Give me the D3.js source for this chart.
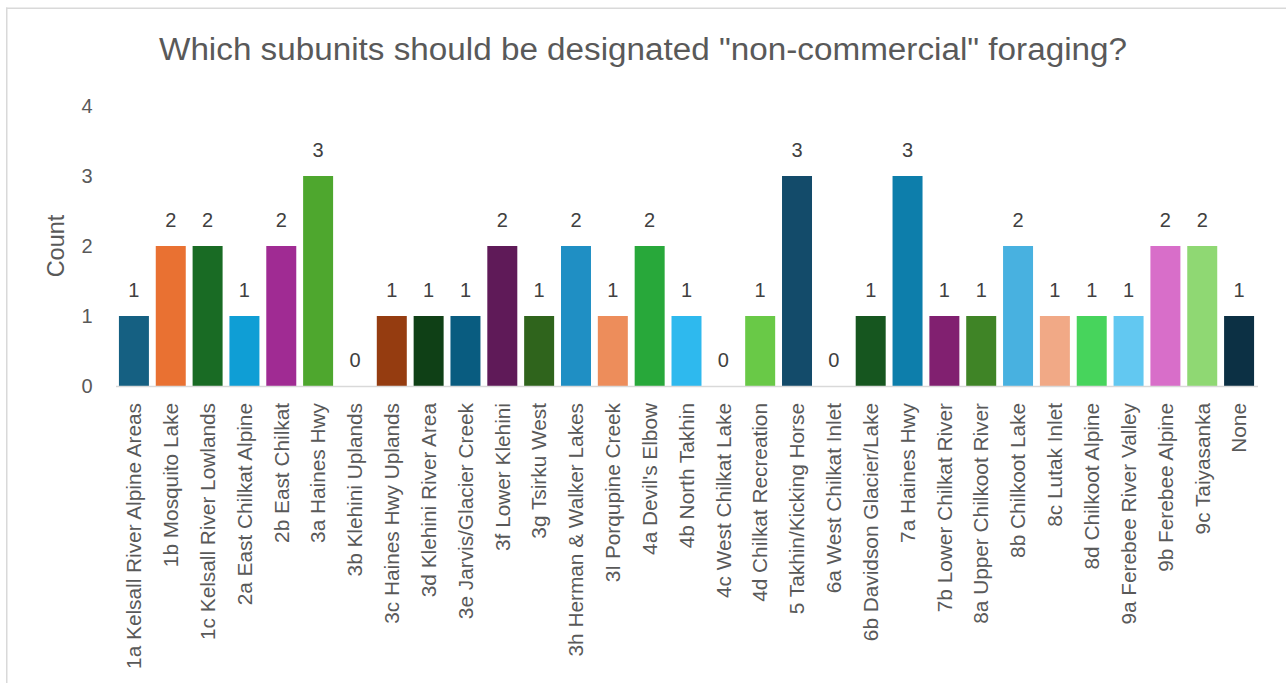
<!DOCTYPE html>
<html>
<head>
<meta charset="utf-8">
<script src="https://cdn.jsdelivr.net/npm/d3@7"></script>
<style>
  html, body { margin: 0; padding: 0; background: #ffffff; }
  svg { display: block; font-family: "Liberation Sans", Arial, sans-serif; }
</style>
</head>
<body>
<svg id="chart" width="1286" height="683"></svg>
<script>
// Subunits and response counts
const subunits = [
  "1a Kelsall River Alpine Areas", "1b Mosquito Lake", "1c Kelsall River Lowlands",
  "2a East Chilkat Alpine", "2b East Chilkat", "3a Haines Hwy", "3b Klehini Uplands",
  "3c Haines Hwy Uplands", "3d Klehini River Area", "3e Jarvis/Glacier Creek",
  "3f Lower Klehini", "3g Tsirku West", "3h Herman & Walker Lakes", "3I Porqupine Creek",
  "4a Devil's Elbow", "4b North Takhin", "4c West Chilkat Lake", "4d Chilkat Recreation",
  "5 Takhin/Kicking Horse", "6a West Chilkat Inlet", "6b Davidson Glacier/Lake",
  "7a Haines Hwy", "7b Lower Chilkat River", "8a Upper Chilkoot River", "8b Chilkoot Lake",
  "8c Lutak Inlet", "8d Chilkoot Alpine", "9a Ferebee River Valley", "9b Ferebee Alpine",
  "9c Taiyasanka", "None"
];
const counts = [1, 2, 2, 1, 2, 3, 0, 1, 1, 1, 2, 1, 2, 1, 2, 1, 0, 1, 3, 0, 1, 3, 1, 1, 2, 1, 1, 1, 2, 2, 1];
const barColors = [
  "#156082", "#e97132", "#196b24", "#0f9ed5", "#a02b93", "#4ea72e",
  "#0d3a4e", "#953c10", "#0f4016", "#095c80", "#5f1a58", "#2f641c",
  "#1f8fc4", "#ed8d5b", "#28a83a", "#2eb9ee", "#c94bb9", "#69c947",
  "#134b6a", "#b5541e", "#16561f", "#0d7eab", "#812070", "#3f8426",
  "#48b1e0", "#f1a986", "#47d45c", "#62c8f1", "#d86ec9", "#8fd873",
  "#0c3044"
];
const yTicks = [0, 1, 2, 3, 4];
const titleText = "Which subunits should be designated \"non-commercial\" foraging?";
const yTitle = "Count";

const svg = d3.select("#chart");
const W = 1286, H = 683;

// Chart frame edges
svg.append("line").attr("x1", 6.75).attr("x2", 6.75).attr("y1", 7.5).attr("y2", H)
  .attr("stroke", "#d9d9d9").attr("stroke-width", 1.5);
svg.append("line").attr("x1", 6).attr("x2", W).attr("y1", 8.25).attr("y2", 8.25)
  .attr("stroke", "#d9d9d9").attr("stroke-width", 1.5);

const plot = { left: 115.5, right: 1257.5, top: 106, bottom: 386 };

const x = d3.scaleBand()
  .domain(subunits)
  .range([plot.left, plot.right])
  .paddingInner(0.186)
  .paddingOuter(0.093);

const y = d3.scaleLinear()
  .domain([0, 4])
  .range([plot.bottom, plot.top]);

// Title, fitted to its span
const title = svg.append("text")
  .attr("x", W / 2).attr("y", 60)
  .attr("text-anchor", "middle")
  .attr("font-size", 31)
  .attr("fill", "#595959")
  .text(titleText);
title.attr("textLength", 968).attr("lengthAdjust", "spacingAndGlyphs");

// Bars
svg.append("g").selectAll("rect")
  .data(subunits)
  .join("rect")
  .attr("x", d => x(d))
  .attr("width", x.bandwidth())
  .attr("y", (d, i) => y(counts[i]))
  .attr("height", (d, i) => y(0) - y(counts[i]))
  .attr("fill", (d, i) => barColors[i]);

// Value labels
svg.append("g").selectAll("text")
  .data(subunits)
  .join("text")
  .attr("x", d => x(d) + x.bandwidth() / 2)
  .attr("y", (d, i) => y(counts[i]) - 19)
  .attr("text-anchor", "middle")
  .attr("font-size", 20)
  .attr("fill", "#404040")
  .text((d, i) => counts[i]);

// Y axis (labels only)
const yAxis = svg.append("g")
  .attr("transform", `translate(${plot.left},0)`)
  .call(d3.axisLeft(y).tickValues(yTicks).tickFormat(d3.format("d")).tickSize(0).tickPadding(23));
yAxis.select(".domain").remove();
yAxis.selectAll("text")
  .attr("font-size", 20)
  .attr("font-family", "Liberation Sans, Arial, sans-serif")
  .attr("fill", "#595959");

// X axis
const xAxis = svg.append("g")
  .attr("transform", `translate(0,${plot.bottom})`)
  .call(d3.axisBottom(x).tickSize(0).tickPadding(0));
xAxis.select(".domain").attr("stroke", "#d9d9d9").attr("stroke-width", 1.5);
xAxis.selectAll(".tick text")
  .attr("font-size", 20.8)
  .attr("font-family", "Liberation Sans, Arial, sans-serif")
  .attr("fill", "#595959")
  .attr("text-anchor", "end")
  .attr("transform", "rotate(-90)")
  .attr("x", -17)
  .attr("y", 0)
  .attr("dy", "0.35em");

// Y axis title
svg.append("text")
  .attr("transform", `translate(64,${(plot.top + plot.bottom) / 2}) rotate(-90)`)
  .attr("text-anchor", "middle")
  .attr("font-size", 23.5)
  .attr("fill", "#595959")
  .text(yTitle);
</script>
</body>
</html>
